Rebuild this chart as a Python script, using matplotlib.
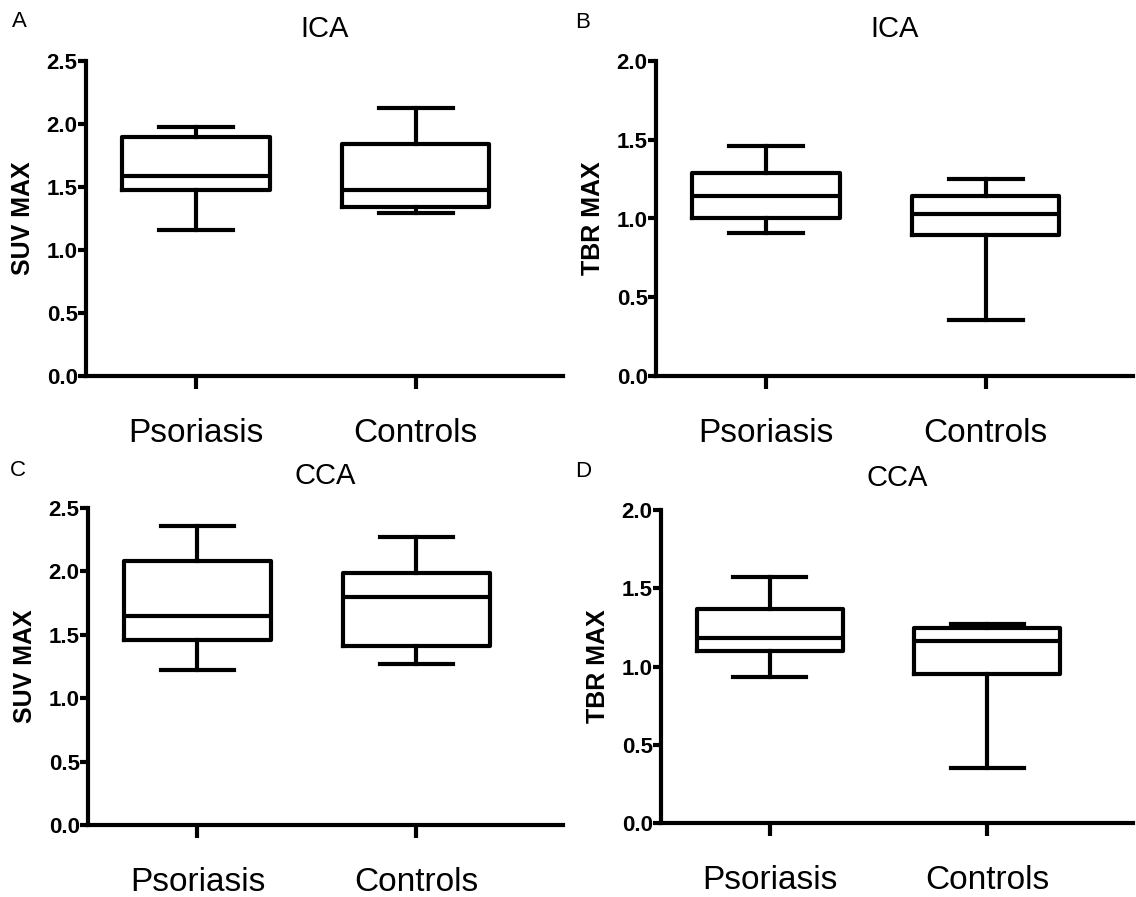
import matplotlib
matplotlib.use("Agg")
import matplotlib.pyplot as plt

plt.rcParams['font.family'] = ['Liberation Sans', 'DejaVu Sans']

groups = ['Psoriasis', 'Controls']

# box stats: whislo, q1, median, q3, whishi
ica_suv_lo  = [1.16, 1.29]
ica_suv_q1  = [1.48, 1.34]
ica_suv_med = [1.59, 1.48]
ica_suv_q3  = [1.90, 1.84]
ica_suv_hi  = [1.98, 2.13]

ica_tbr_lo  = [0.905, 0.355]
ica_tbr_q1  = [1.00, 0.895]
ica_tbr_med = [1.14, 1.03]
ica_tbr_q3  = [1.29, 1.14]
ica_tbr_hi  = [1.46, 1.25]

cca_suv_lo  = [1.22, 1.27]
cca_suv_q1  = [1.46, 1.41]
cca_suv_med = [1.65, 1.80]
cca_suv_q3  = [2.08, 1.99]
cca_suv_hi  = [2.36, 2.27]

cca_tbr_lo  = [0.93, 0.35]
cca_tbr_q1  = [1.10, 0.95]
cca_tbr_med = [1.18, 1.165]
cca_tbr_q3  = [1.37, 1.245]
cca_tbr_hi  = [1.575, 1.27]

panels = [
    ('A', 'ICA', 'SUV MAX', 2.5, (ica_suv_lo, ica_suv_q1, ica_suv_med, ica_suv_q3, ica_suv_hi)),
    ('B', 'ICA', 'TBR MAX', 2.0, (ica_tbr_lo, ica_tbr_q1, ica_tbr_med, ica_tbr_q3, ica_tbr_hi)),
    ('C', 'CCA', 'SUV MAX', 2.5, (cca_suv_lo, cca_suv_q1, cca_suv_med, cca_suv_q3, cca_suv_hi)),
    ('D', 'CCA', 'TBR MAX', 2.0, (cca_tbr_lo, cca_tbr_q1, cca_tbr_med, cca_tbr_q3, cca_tbr_hi)),
]

W, H = 1136, 897
fig = plt.figure(figsize=(W / 100, H / 100), dpi=100)

# pixel boxes: left, top, right, bottom of the plotting area; letter position
boxes = [(86, 61, 563, 376), (656, 61, 1133, 376),
         (88, 508, 563, 825), (661, 510, 1133, 823)]
letters = [(12, 27), (575, 28), (10, 476), (575, 477)]

lw = 3.0
for (letter, title, ylab, ymax, st), (l, t, r, b), (lx, ly) in zip(panels, boxes, letters):
    ax = fig.add_axes([l / W, 1 - b / H, (r - l) / W, (b - t) / H])
    lo, q1, med, q3, hi = st
    stats = []
    for i, g in enumerate(groups):
        stats.append(dict(label=g, whislo=lo[i], q1=q1[i], med=med[i],
                          q3=q3[i], whishi=hi[i], fliers=[]))
    ax.bxp(stats, positions=[1, 2], widths=0.67, showfliers=False,
           boxprops=dict(linewidth=lw, color='black'),
           medianprops=dict(linewidth=lw, color='black'),
           whiskerprops=dict(linewidth=lw, color='black'),
           capprops=dict(linewidth=lw, color='black'))
    ax.set_xlim(0.5, 2.67)
    ax.set_ylim(0, ymax)
    ax.set_yticks([v * 0.5 for v in range(int(ymax / 0.5) + 1)])
    ax.set_yticklabels(['%.1f' % (v * 0.5) for v in range(int(ymax / 0.5) + 1)],
                       fontweight='bold', fontsize=16)
    ax.set_xticks([1, 2])
    ax.set_xticklabels(groups, fontsize=24)
    for s in ['top', 'right']:
        ax.spines[s].set_visible(False)
    for s in ['left', 'bottom']:
        ax.spines[s].set_linewidth(lw)
    ax.tick_params(axis='y', length=6, width=lw, pad=0)
    ax.tick_params(axis='x', length=9, width=lw, pad=21)
    ax.set_ylabel(ylab, fontsize=18, fontweight='bold')
    ax.yaxis.set_label_coords(-0.107, 0.5)
    ax.set_title(title, fontsize=21, pad=17)
    fig.text(lx / W, 1 - ly / H, letter, fontsize=16, va='baseline')

fig.savefig('out.png', dpi=100, facecolor='white')
